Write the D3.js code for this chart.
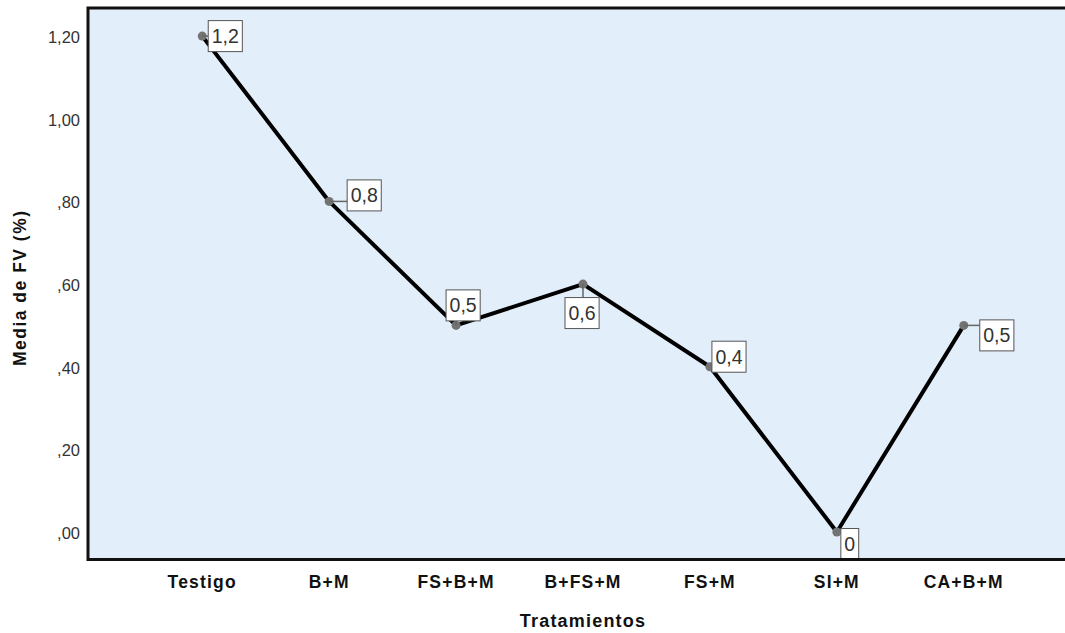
<!DOCTYPE html>
<html>
<head>
<meta charset="utf-8">
<script src="https://cdn.jsdelivr.net/npm/d3@7"></script>
<style>
  body { margin: 0; background: #fff; }
  text { font-family: "Liberation Sans", Arial, sans-serif; }
</style>
</head>
<body>
<div id="chart"></div>
<script>
// data
const categories = ['Testigo', 'B+M', 'FS+B+M', 'B+FS+M', 'FS+M', 'SI+M', 'CA+B+M'];
const meanValues = [1.2, 0.8, 0.5, 0.6, 0.4, 0, 0.5];
const yTicks = [0, 0.2, 0.4, 0.6, 0.8, 1.0, 1.2];

// where each value label box sits relative to its point (left edge dx, centre dy)
const labelPlacement = [[6, 0], [18, -6], [-10, -20], [-18, 29], [2, -10], [4, 12], [16, 10]];

const width = 1065, height = 633;
const plot = {left: 88, top: 8, right: 1078, bottom: 559.5};

const svg = d3.select('#chart').append('svg')
    .attr('width', width)
    .attr('height', height);

const x = d3.scalePoint()
    .domain(categories)
    .range([plot.left, plot.right])
    .padding(0.9);

const y = d3.scaleLinear()
    .domain([-0.0665, 1.268])
    .range([plot.bottom, plot.top]);

// plot background
svg.append('rect')
    .attr('x', plot.left)
    .attr('y', plot.top)
    .attr('width', plot.right - plot.left)
    .attr('height', plot.bottom - plot.top)
    .attr('fill', '#e2eefa');

// y tick labels (comma decimal, no leading zero)
const fmtTick = v => d3.format('.2f')(v).replace('.', ',').replace(/^0/, '');
svg.append('g')
  .selectAll('text')
    .data(yTicks)
  .join('text')
    .attr('x', 80)
    .attr('y', d => y(d) + 7)
    .attr('text-anchor', 'end')
    .attr('font-size', 16.5)
    .attr('fill', '#333')
    .text(fmtTick);

// category labels
svg.append('g')
  .selectAll('text')
    .data(categories)
  .join('text')
    .attr('x', d => x(d))
    .attr('y', 588)
    .attr('text-anchor', 'middle')
    .attr('font-size', 17.5)
    .attr('font-weight', 'bold')
    .attr('letter-spacing', 1.2)
    .attr('fill', '#111')
    .text(d => d);

// axis titles
svg.append('text')
    .attr('x', (plot.left + plot.right) / 2)
    .attr('y', 627)
    .attr('text-anchor', 'middle')
    .attr('font-size', 18)
    .attr('font-weight', 'bold')
    .attr('letter-spacing', 1.2)
    .attr('fill', '#111')
    .text('Tratamientos');

svg.append('text')
    .attr('transform', `translate(26,${(plot.top + plot.bottom) / 2 + 4}) rotate(-90)`)
    .attr('text-anchor', 'middle')
    .attr('font-size', 17.5)
    .attr('font-weight', 'bold')
    .attr('letter-spacing', 1.5)
    .attr('fill', '#111')
    .text('Media de FV (%)');

const pts = categories.map((c, i) => ({cat: c, value: meanValues[i], px: x(c), py: y(meanValues[i]), place: labelPlacement[i]}));

// mean line
svg.append('path')
    .datum(pts)
    .attr('fill', 'none')
    .attr('stroke', '#000')
    .attr('stroke-width', 4)
    .attr('stroke-linejoin', 'round')
    .attr('d', d3.line().x(d => d.px).y(d => d.py));

// value labels
const fmtLabel = v => String(v).replace('.', ',');
const labels = svg.append('g');
const boxH = 31, padX = 3.5;

pts.forEach(d => {
  const g = labels.append('g');
  const t = g.append('text')
      .attr('font-size', 19.5)
      .attr('fill', '#333')
      .text(fmtLabel(d.value));
  const tw = t.node().getComputedTextLength();
  const bx = d.px + d.place[0];
  const by = d.py + d.place[1] - boxH / 2;
  const bw = tw + padX * 2;
  t.attr('x', bx + padX).attr('y', by + boxH / 2 + 7);

  // leader line to nearest edge of the box
  const nx = Math.max(bx, Math.min(d.px, bx + bw));
  const ny = Math.max(by, Math.min(d.py, by + boxH));
  if (Math.hypot(nx - d.px, ny - d.py) > 4) {
    labels.insert('line', ':first-child')
        .attr('x1', d.px).attr('y1', d.py)
        .attr('x2', nx).attr('y2', ny)
        .attr('stroke', '#666')
        .attr('stroke-width', 1.5);
  }
  g.insert('rect', 'text')
      .attr('x', bx).attr('y', by)
      .attr('width', bw).attr('height', boxH)
      .attr('fill', '#fff')
      .attr('stroke', '#555')
      .attr('stroke-width', 1);
});

// points
svg.insert('g', () => labels.node())
  .selectAll('circle')
    .data(pts)
  .join('circle')
    .attr('cx', d => d.px)
    .attr('cy', d => d.py)
    .attr('r', 4.5)
    .attr('fill', '#737373');

// frame
svg.append('rect')
    .attr('x', plot.left)
    .attr('y', plot.top)
    .attr('width', plot.right - plot.left)
    .attr('height', plot.bottom - plot.top)
    .attr('fill', 'none')
    .attr('stroke', '#111')
    .attr('stroke-width', 3);
</script>
</body>
</html>
